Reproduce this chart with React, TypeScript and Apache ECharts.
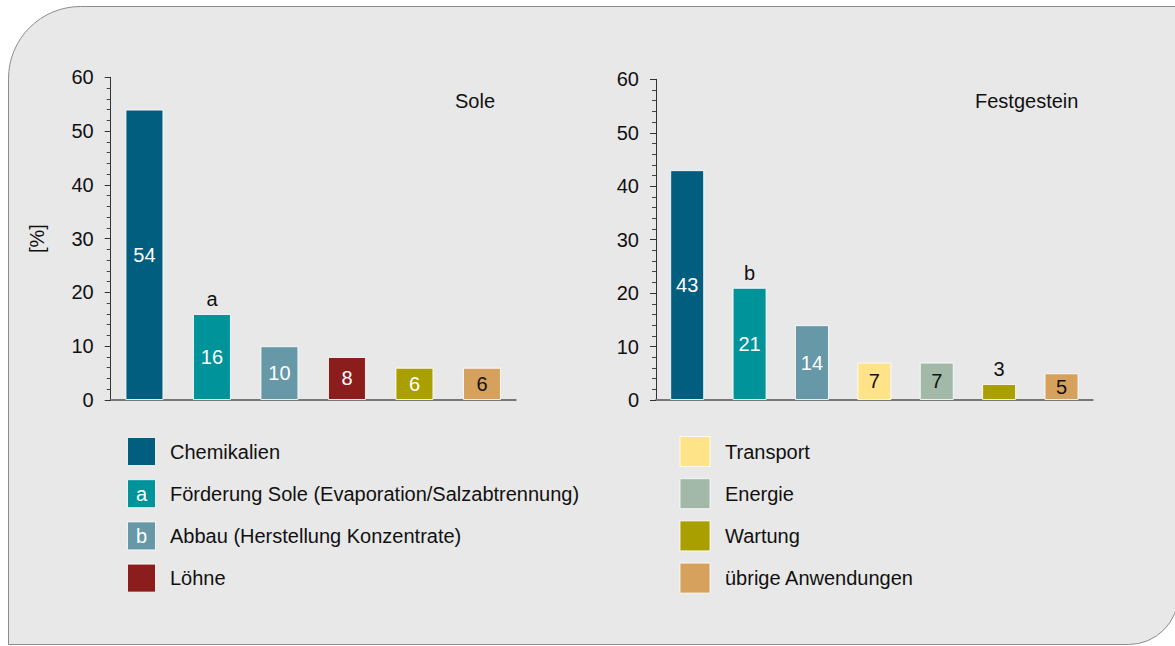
import React, { useEffect, useRef } from "react";
import * as echarts from "echarts";

// ---- Data ----
const soleCategories = [
  "Chemikalien",
  "Förderung Sole (Evaporation/Salzabtrennung)",
  "Abbau (Herstellung Konzentrate)",
  "Löhne",
  "Wartung",
  "übrige Anwendungen",
];
const soleValues = [54, 16, 10, 8, 6, 6];
const soleNotes = ["", "a", "", "", "", ""];

const festCategories = [
  "Chemikalien",
  "Förderung Sole (Evaporation/Salzabtrennung)",
  "Abbau (Herstellung Konzentrate)",
  "Transport",
  "Energie",
  "Wartung",
  "übrige Anwendungen",
];
const festValues = [43, 21, 14, 7, 7, 3, 5];
const festNotes = ["", "b", "", "", "", "", ""];

const panelTitles = ["Sole", "Festgestein"];
const yAxisName = "[%]";
const yMin = 0;
const yMax = 60;
const yInterval = 10;

const legendLeft = [
  "Chemikalien",
  "Förderung Sole (Evaporation/Salzabtrennung)",
  "Abbau (Herstellung Konzentrate)",
  "Löhne",
];
const legendRight = ["Transport", "Energie", "Wartung", "übrige Anwendungen"];
const legendMarks: Record<string, string> = {
  "Förderung Sole (Evaporation/Salzabtrennung)": "a",
  "Abbau (Herstellung Konzentrate)": "b",
};

// ---- Styles ----
const COLORS: Record<string, string> = {
  Chemikalien: "#015e7e",
  "Förderung Sole (Evaporation/Salzabtrennung)": "#00939a",
  "Abbau (Herstellung Konzentrate)": "#6698a7",
  Löhne: "#8b1d1d",
  Transport: "#ffe388",
  Energie: "#a2b9aa",
  Wartung: "#a9a000",
  "übrige Anwendungen": "#d6a15d",
};
const DARK_TEXT = new Set(["Transport", "Energie", "übrige Anwendungen"]);
const FONT = "'Liberation Sans', Arial, Helvetica, sans-serif";
const FS = 20;

function barData(cats: string[], vals: number[]) {
  return vals.map((v, i) => {
    const c = cats[i];
    const small = v < 4;
    return {
      value: v,
      itemStyle: { color: COLORS[c] },
      label: {
        position: small ? "top" : "inside",
        color: small || DARK_TEXT.has(c) ? "#111" : "#fff",
        distance: 5,
      },
    };
  });
}

function yAxis(gridIndex: number, withName: boolean) {
  return {
    type: "value",
    gridIndex,
    min: yMin,
    max: yMax,
    interval: yInterval,
    name: withName ? yAxisName : "",
    nameLocation: "middle",
    nameRotate: 90,
    nameGap: 64,
    nameTextStyle: { fontFamily: FONT, fontSize: FS, color: "#111" },
    axisLine: { show: true, lineStyle: { color: "#333", width: 1 } },
    axisTick: { show: true, inside: false, length: 6, lineStyle: { color: "#333" } },
    minorTick: { show: true, splitNumber: 5, length: 4, lineStyle: { color: "#444" } },
    splitLine: { show: false },
    minorSplitLine: { show: false },
    axisLabel: { margin: 17, fontFamily: FONT, fontSize: FS, color: "#111" },
  };
}

function xAxis(gridIndex: number, cats: string[]) {
  return {
    type: "category",
    gridIndex,
    data: cats,
    axisLine: { show: true, lineStyle: { color: "#777", width: 2 } },
    axisTick: { show: false },
    axisLabel: { show: false },
    splitLine: { show: false },
  };
}

function seriesFor(idx: number, cats: string[], vals: number[], notes: string[], barWidth: number) {
  return [
    {
      type: "bar",
      xAxisIndex: idx,
      yAxisIndex: idx,
      barWidth,
      barGap: "-100%",
      data: barData(cats, vals),
      itemStyle: { borderColor: "rgba(255,255,255,0.85)", borderWidth: 1 },
      label: {
        show: true,
        fontFamily: FONT,
        fontSize: FS,
        formatter: (p: any) => String(p.value),
      },
      silent: true,
    },
    {
      type: "bar",
      xAxisIndex: idx,
      yAxisIndex: idx,
      barWidth,
      barGap: "-100%",
      data: vals,
      itemStyle: { color: "transparent", borderWidth: 0 },
      label: {
        show: true,
        position: "top",
        distance: 5,
        fontFamily: FONT,
        fontSize: FS,
        color: "#111",
        formatter: (p: any) => notes[p.dataIndex] || "",
      },
      silent: true,
    },
  ];
}

function legendGraphics() {
  const els: any[] = [];
  const cols = [
    { items: legendLeft, x: 127.5, size: 28, tx: 170 },
    { items: legendRight, x: 680, size: 30, tx: 725 },
  ];
  cols.forEach((col) => {
    col.items.forEach((name, i) => {
      const cy = 451.5 + i * 42.2;
      els.push({
        type: "rect",
        shape: { x: col.x, y: cy - col.size / 2, width: col.size, height: col.size },
        style: { fill: COLORS[name], stroke: "rgba(255,255,255,0.8)", lineWidth: 1 },
      });
      const mark = legendMarks[name];
      if (mark) {
        els.push({
          type: "text",
          x: col.x + col.size / 2,
          y: cy,
          style: {
            text: mark,
            fill: "#fff",
            font: `${FS}px ${FONT}`,
            align: "center",
            verticalAlign: "middle",
          },
        });
      }
      els.push({
        type: "text",
        x: col.tx,
        y: cy,
        style: {
          text: name,
          fill: "#111",
          font: `${FS}px ${FONT}`,
          align: "left",
          verticalAlign: "middle",
        },
      });
    });
  });
  return els;
}

export default function App() {
  const ref = useRef<HTMLDivElement>(null);
  useEffect(() => {
    if (!ref.current) return;
    const chart = echarts.init(ref.current, undefined, { renderer: "svg" });
    chart.setOption({
      animation: false,
      backgroundColor: "#ffffff",
      title: [
        {
          text: panelTitles[0],
          left: 455,
          top: 91,
          textStyle: { fontFamily: FONT, fontSize: FS, fontWeight: "normal", color: "#111" },
          padding: 0,
        },
        {
          text: panelTitles[1],
          left: 975,
          top: 91,
          textStyle: { fontFamily: FONT, fontSize: FS, fontWeight: "normal", color: "#111" },
          padding: 0,
        },
      ],
      grid: [
        { left: 110.7, top: 77.3, width: 405, height: 322.7, containLabel: false },
        { left: 656, top: 79.3, width: 436.7, height: 320.7, containLabel: false },
      ],
      xAxis: [xAxis(0, soleCategories), xAxis(1, festCategories)],
      yAxis: [yAxis(0, true), yAxis(1, false)],
      series: [
        ...seriesFor(0, soleCategories, soleValues, soleNotes, 38),
        ...seriesFor(1, festCategories, festValues, festNotes, 34),
      ],
      graphic: [
        {
          type: "rect",
          z: -10,
          shape: { x: 8.5, y: 6.5, width: 1170, height: 638, r: [72, 0, 50, 0] },
          style: { fill: "#e8e8e8", stroke: "#8c8c8c", lineWidth: 1 },
          silent: true,
        },
        ...legendGraphics(),
      ],
    });
    return () => chart.dispose();
  }, []);
  return (
    <div
      ref={ref}
      style={{ position: "absolute", left: 0, top: 0, width: 1175, height: 646 }}
    />
  );
}
